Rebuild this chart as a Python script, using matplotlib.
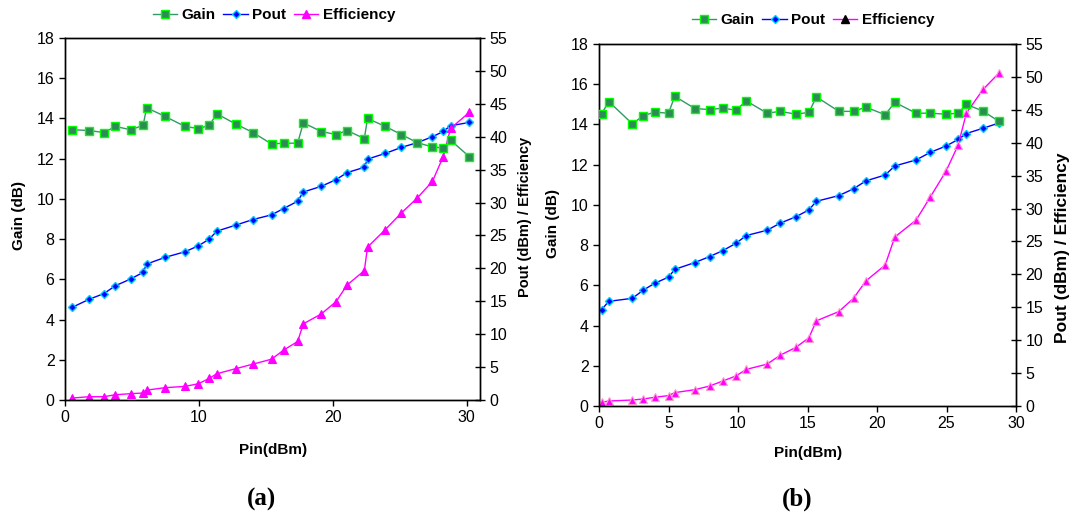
import matplotlib
matplotlib.use("Agg")
import matplotlib.pyplot as plt
from matplotlib.lines import Line2D

plt.rcParams['font.family'] = ['Liberation Sans', 'DejaVu Sans']

# ---- panel (a) ----
pin_a = [0.55, 1.8, 2.9, 3.77, 4.9, 5.83, 6.1, 7.48, 8.97, 9.97, 10.77, 11.34, 12.74, 14.04, 15.43,
         16.33, 17.38, 17.8, 19.15, 20.25, 21.07, 22.36, 22.6, 23.93, 25.13, 26.3, 27.45, 28.25, 28.8, 30.2]
gain_a = [13.44, 13.40, 13.30, 13.60, 13.44, 13.65, 14.53, 14.1, 13.6, 13.5, 13.65, 14.23, 13.73, 13.3, 12.73,
          12.77, 12.77, 13.78, 13.35, 13.2, 13.4, 13.0, 14.0, 13.6, 13.2, 12.8, 12.58, 12.53, 12.92, 12.1]
pout_a = [14.09, 15.3, 16.16, 17.37, 18.38, 19.39, 20.66, 21.67, 22.53, 23.43, 24.44, 25.65, 26.56, 27.42, 28.13,
          29.09, 30.2, 31.6, 32.47, 33.48, 34.55, 35.35, 36.6, 37.47, 38.38, 39.09, 40.0, 40.8, 41.67, 42.17]
eff_a = [0.3, 0.5, 0.5, 0.8, 0.96, 1.06, 1.5, 1.87, 2.07, 2.47, 3.28, 3.99, 4.75, 5.45, 6.2,
         7.58, 8.89, 11.57, 13.08, 14.95, 17.47, 19.65, 23.23, 25.9, 28.43, 30.66, 33.23, 36.97, 41.26, 43.7]

# ---- panel (b) ----
pin_b = [0.19, 0.7, 2.4, 3.17, 4.0, 5.0, 5.45, 6.9, 7.95, 8.9, 9.84, 10.6, 12.09, 13.05, 14.16,
         15.1, 15.64, 17.26, 18.31, 19.2, 20.59, 21.28, 22.81, 23.84, 24.97, 25.84, 26.43, 27.63, 28.78]
gain_b = [14.53, 15.14, 14.03, 14.43, 14.61, 14.56, 15.4, 14.79, 14.74, 14.81, 14.71, 15.17, 14.56, 14.65, 14.51,
          14.6, 15.37, 14.65, 14.65, 14.86, 14.48, 15.1, 14.56, 14.56, 14.51, 14.56, 15.0, 14.66, 14.15]
pout_b = [14.65, 15.9, 16.36, 17.58, 18.64, 19.58, 20.76, 21.8, 22.7, 23.6, 24.7, 25.9, 26.7, 27.8, 28.74,
          29.8, 31.1, 31.97, 33.0, 34.2, 35.1, 36.47, 37.38, 38.54, 39.5, 40.5, 41.4, 42.2, 43.0]
eff_b = [0.56, 0.76, 0.91, 1.06, 1.32, 1.58, 2.03, 2.48, 3.03, 3.79, 4.55, 5.56, 6.36, 7.73, 8.9,
         10.36, 12.94, 14.35, 16.36, 19.0, 21.42, 25.67, 28.24, 31.77, 35.7, 39.65, 44.5, 48.1, 50.6]

W, H = 1071, 519
fig = plt.figure(figsize=(W / 100, H / 100), dpi=100)

GAIN_LINE = '#339966'
GAIN_FACE = '#2E8B57'
GAIN_EDGE = '#00FF00'


def px(x, y):
    return x / W, 1 - y / H


def panel(rect, pin, gain, pout, eff, xmax, xstep, eff_edge, legend_eff_color):
    ax = fig.add_axes(rect)
    ax2 = ax.twinx()
    ax.plot(pin, gain, color=GAIN_LINE, lw=1, marker='s', ms=5.5, mfc=GAIN_FACE, mec=GAIN_EDGE, mew=1, zorder=3)
    ax2.plot(pin, pout, color='#0000FF', lw=1, marker='D', ms=3.8, mfc='#0000FF', mec='#00CCFF', mew=1)
    ax2.plot(pin, eff, color='#FF00FF', lw=1, marker='^', ms=5.5, mfc='#FF00FF', mec=eff_edge, mew=0.8)

    ax.set_xlim(0, xmax)
    ax.set_ylim(0, 18)
    ax2.set_ylim(0, 55)
    ax.set_xticks(range(0, 31, xstep))
    ax.set_yticks(range(0, 19, 2))
    ax2.set_yticks(range(0, 56, 5))
    ax.tick_params(axis='both', direction='out', length=4, labelsize=11.5, width=1)
    ax2.tick_params(axis='y', direction='inout', length=7, labelsize=11.5, width=1)
    for a in (ax, ax2):
        for s in a.spines.values():
            s.set_linewidth(1)
    ax2.set_zorder(ax.get_zorder() - 1)
    ax.patch.set_visible(False)

    handles = [
        Line2D([], [], color=GAIN_LINE, lw=1, marker='s', ms=5.5, mfc=GAIN_FACE, mec=GAIN_EDGE),
        Line2D([], [], color='#0000FF', lw=1, marker='D', ms=3.8, mfc='#0000FF', mec='#00CCFF'),
        Line2D([], [], color='#FF00FF', lw=1, marker='^', ms=6, mfc=legend_eff_color, mec=legend_eff_color),
    ]
    return ax, ax2, handles


ax_a, ax_a2, h_a = panel([65 / W, 1 - 400 / H, 415 / W, 362 / H], pin_a, gain_a, pout_a, eff_a,
                         31, 10, '#FF00FF', '#FF00FF')
ax_b, ax_b2, h_b = panel([599 / W, 1 - 406 / H, 417 / W, 362 / H], pin_b, gain_b, pout_b, eff_b,
                         30, 5, '#FF99CC', 'black')

labels = ['Gain', 'Pout', 'Efficiency']
leg_kw = dict(loc='center', ncol=3, frameon=False, prop={'weight': 'bold', 'size': 11},
              handlelength=1.6, handletextpad=0.3, columnspacing=0.5, borderpad=0)
fig.legend(h_a, labels, bbox_to_anchor=px(274, 15), **leg_kw)
fig.legend(h_b, labels, bbox_to_anchor=px(813, 20), **leg_kw)

# axis titles
fig.text(*px(19, 216), 'Gain (dB)', rotation=90, ha='center', va='center', fontsize=11, fontweight='bold')
fig.text(*px(525, 217), 'Pout (dBm) / Efficiency', rotation=90, ha='center', va='center',
         fontsize=10.5, fontweight='bold')
fig.text(*px(273, 450), 'Pin(dBm)', ha='center', va='center', fontsize=11, fontweight='bold')

fig.text(*px(553, 223), 'Gain (dB)', rotation=90, ha='center', va='center', fontsize=11, fontweight='bold')
fig.text(*px(1063, 248), 'Pout (dBm) / Efficiency', rotation=90, ha='center', va='center',
         fontsize=12.5, fontweight='bold')
fig.text(*px(808, 453), 'Pin(dBm)', ha='center', va='center', fontsize=11, fontweight='bold')

fig.text(*px(261, 499), '(a)', ha='center', va='center', fontsize=18, fontweight='bold',
         family=['Liberation Serif', 'DejaVu Serif'])
fig.text(*px(797, 499), '(b)', ha='center', va='center', fontsize=18, fontweight='bold',
         family=['Liberation Serif', 'DejaVu Serif'])

fig.savefig('out.png', dpi=100)
